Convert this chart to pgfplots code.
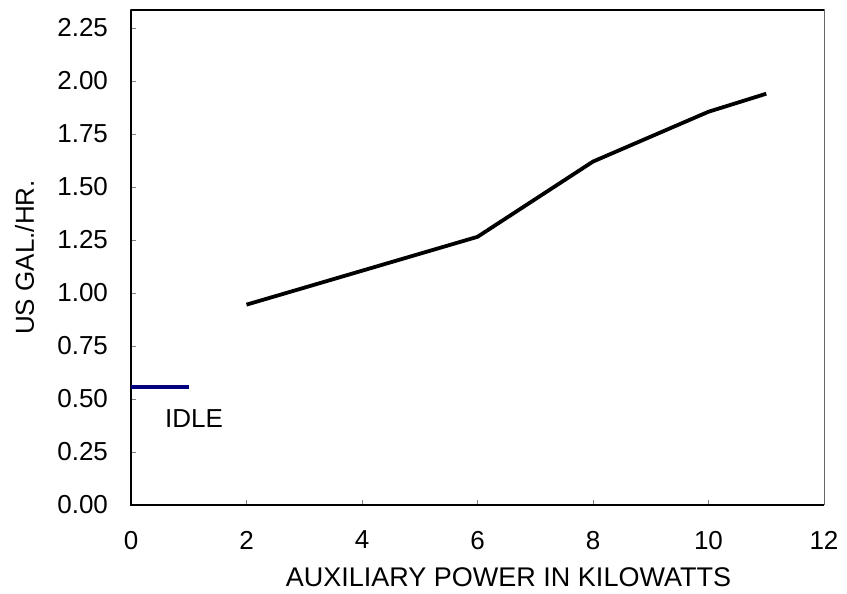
\documentclass[border=0pt]{standalone}
\usepackage{pgfplots}
\pgfplotsset{compat=1.18}
\usetikzlibrary{calc}
\usepackage{fontspec}
\setmainfont{Liberation Sans}
\definecolor{idleblue}{RGB}{0,0,128}

\begin{document}
\begin{tikzpicture}
\begin{axis}[
  name=ax,
  scale only axis,
  width=346.5pt, height=247.5pt,
  xmin=0, xmax=12,
  ymin=0, ymax=2.335,
  xtick={0,2,...,12},
  ytick={0,0.25,...,2.25},
  tick align=inside,
  major tick length=2.5pt,
  xtick pos=bottom, ytick pos=left,
  axis line style={line width=0.5pt, black!60},
  font=\fontsize{13}{15}\selectfont,
  /pgf/number format/assume math mode=true,
  yticklabel style={/pgf/number format/fixed, /pgf/number format/fixed zerofill, /pgf/number format/precision=2, xshift=-8pt},
  xticklabel style={yshift=-9.5pt},
  xlabel={AUXILIARY POWER IN KILOWATTS},
  ylabel={US GAL./HR.},
  xlabel style={at={(axis description cs:0.5447,-0.1455)}, anchor=center, font=\fontsize{13.5}{15}\selectfont},
  ylabel style={at={(axis description cs:-0.1537,0.5)}, anchor=center},
  clip=false,
]
% heavier left and bottom axis lines, thin black top
\draw[line width=1.1pt] (rel axis cs:0,1) -- (rel axis cs:0,0) -- (rel axis cs:1,0);
\draw[line width=0.6pt] (rel axis cs:0,1) -- (rel axis cs:1,1);

\addplot[black, line width=1.9pt] coordinates {
  (2,0.945) (4,1.105) (6,1.265) (8,1.62) (10,1.855) (11,1.94)
};

% idle level
\addplot[idleblue, line width=1.6pt] coordinates {(0,0.557) (1,0.557)};
\node[anchor=west, font=\fontsize{13}{15}\selectfont] at (axis cs:0.47,0.41) {IDLE};
\end{axis}
\useasboundingbox ($(ax.south west)+(-65.5pt,-44pt)$) rectangle ($(ax.south west)+(358pt,252.5pt)$);
\end{tikzpicture}
\end{document}
